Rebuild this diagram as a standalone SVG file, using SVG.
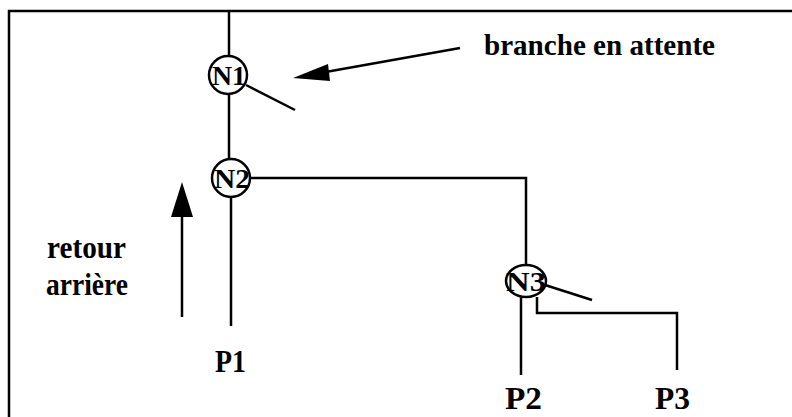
<svg xmlns="http://www.w3.org/2000/svg" width="792" height="417" viewBox="0 0 792 417">
<style>
.ln{stroke:#000;stroke-width:2.5;fill:none;stroke-linecap:butt}
.nd{stroke:#000;stroke-width:2.5;fill:#fff}
.t{font-family:"Liberation Serif","Times New Roman",serif;fill:#000;font-weight:bold}
.nl{font-family:"Liberation Serif","Times New Roman",serif;fill:#000;font-size:28px;text-anchor:middle;font-weight:bold}
</style>
<rect width="792" height="417" fill="#fff"/>
<g id="frame">
<path class="ln" d="M9,417 V11 H792" stroke-width="3"/>
</g>
<g id="connectors">
<path class="ln" d="M229,11 V56"/>
<path class="ln" d="M229,94 V160"/>
<path class="ln" d="M231,197 V326"/>
<path class="ln" d="M249,178 H526 V265"/>
<path class="ln" d="M246,85 L295,110"/>
<path class="ln" d="M521,297 V375"/>
<path class="ln" d="M537,297 V313 H677 V370"/>
<path class="ln" d="M545,285 L592,300"/>
<path class="ln" d="M460,48 L320,73" stroke-width="3"/>
<polygon points="293,78 328,64 330,81" fill="#000"/>
<path class="ln" d="M182,317 V212" stroke-width="3.5"/>
<polygon points="182,182 171,217 193,217" fill="#000"/>
</g>
<g id="N1">
<circle class="nd" cx="228" cy="75" r="19"/>
<text class="nl" x="229" y="85" textLength="34" lengthAdjust="spacingAndGlyphs">N1</text>
</g>
<g id="N2">
<circle class="nd" cx="231" cy="178" r="19"/>
<text class="nl" x="232" y="188" textLength="36" lengthAdjust="spacingAndGlyphs">N2</text>
</g>
<g id="N3">
<ellipse class="nd" cx="526" cy="281" rx="20" ry="16"/>
<text class="nl" x="526" y="291" textLength="40" lengthAdjust="spacingAndGlyphs">N3</text>
</g>
<g id="labels">
<text class="t" x="484" y="55" font-size="30" textLength="231" lengthAdjust="spacingAndGlyphs">branche en attente</text>
<text class="t" x="47" y="258" font-size="31" textLength="79" lengthAdjust="spacingAndGlyphs">retour</text>
<text class="t" x="46" y="295" font-size="31" textLength="82" lengthAdjust="spacingAndGlyphs">arrière</text>
<text class="t" x="215" y="372" font-size="32" textLength="31" lengthAdjust="spacingAndGlyphs">P1</text>
<text class="t" x="505" y="409" font-size="32" textLength="37" lengthAdjust="spacingAndGlyphs">P2</text>
<text class="t" x="655" y="409" font-size="32" textLength="35" lengthAdjust="spacingAndGlyphs">P3</text>
</g>
</svg>
